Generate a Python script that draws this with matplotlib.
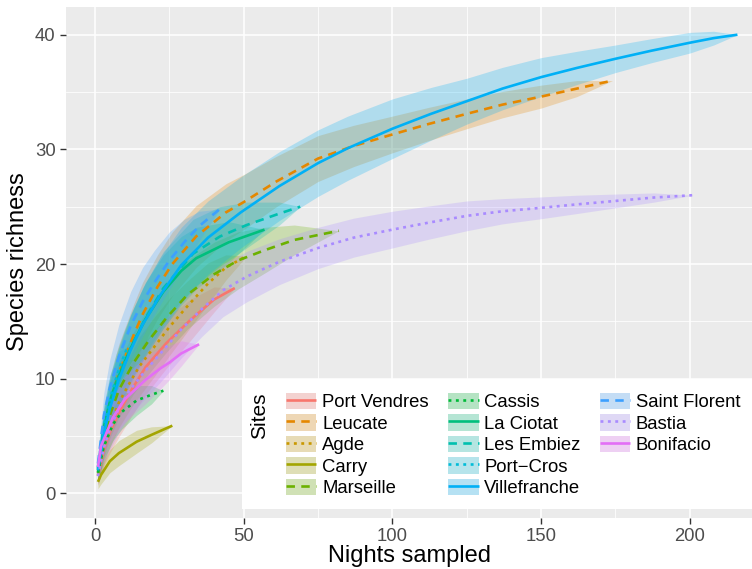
import matplotlib
matplotlib.use("Agg")
import matplotlib.pyplot as plt
from matplotlib.patches import Patch, Rectangle
from matplotlib.lines import Line2D
from matplotlib.legend_handler import HandlerTuple
from matplotlib.ticker import MultipleLocator

plt.rcParams['font.family'] = ['Liberation Sans', 'DejaVu Sans']

# sites in legend order
sites = ["Port Vendres", "Leucate", "Agde", "Carry", "Marseille",
         "Cassis", "La Ciotat", "Les Embiez", "Port\u2212Cros", "Villefranche",
         "Saint Florent", "Bastia", "Bonifacio"]

colors = ["#F8766D", "#E58700", "#C99800", "#A3A500", "#6BB100",
          "#00BA38", "#00BF7D", "#00C0AF", "#00BCD8", "#00B0F6",
          "#3CA0FF", "#A98BFF", "#E36EF6"]

linetypes = ["solid", "dashed", "dotted"] * 5

# nights sampled (x) for each site
nights = [
    [1, 3, 5, 8, 12, 17, 24, 32, 40, 47],
    [1, 3, 5, 8, 13, 16, 21, 26, 34, 44, 50, 61, 75, 87, 100, 112, 125, 137, 150, 162, 174],
    [1, 3, 5, 8, 12, 15, 20, 25, 31, 38, 44, 51],
    [1, 2, 5, 8, 14, 19, 26],
    [1, 3, 5, 8, 13, 18, 24, 31, 40, 48, 57, 67, 82],
    [1, 2, 3, 6, 9, 14, 19, 23],
    [1, 3, 5, 7, 10, 13, 17, 23, 29, 34, 45, 57],
    [1, 3, 5, 8, 12, 17, 23, 33, 42, 51, 62, 69],
    [1, 3, 5, 8, 11],
    [1, 3, 5, 8, 12, 16, 22, 29, 38, 49, 62, 75, 85, 100, 113, 125, 137, 150, 162, 175,
     187, 200, 208, 216],
    [1, 3, 5, 8, 12, 16, 20, 25, 30, 35, 42],
    [1, 3, 5, 8, 12, 16, 22, 29, 36, 43, 51, 62, 75, 87, 100, 112, 125, 137, 150, 162,
     175, 188, 201],
    [1, 2, 6, 10, 17, 22, 25, 29, 35],
]

# species richness (y)
richness = [
    [1.5, 3.8, 5.3, 7.0, 8.9, 11.0, 13.1, 15.1, 16.9, 17.9],
    [2.0, 5.5, 7.9, 10.5, 13.8, 15.6, 18.0, 20.0, 22.4, 24.5, 25.4, 27.2, 29.2, 30.3, 31.3,
     32.2, 33.1, 33.9, 34.6, 35.3, 36.0],
    [1.6, 4.1, 5.9, 7.9, 9.8, 11.1, 12.8, 14.5, 16.3, 18.3, 19.7, 20.7],
    [1.0, 1.6, 2.8, 3.5, 4.5, 5.1, 5.9],
    [1.8, 4.8, 6.8, 9.0, 11.4, 13.3, 15.3, 17.3, 19.1, 20.3, 21.2, 22.1, 22.9],
    [1.8, 3.0, 4.1, 6.0, 7.1, 8.1, 8.6, 8.95],
    [2.2, 5.8, 8.0, 9.6, 11.5, 13.2, 15.2, 17.6, 19.4, 20.5, 21.9, 23.0],
    [2.1, 5.4, 7.6, 10.1, 12.7, 15.3, 17.9, 20.9, 22.4, 23.4, 24.4, 25.0],
    [2.3, 5.9, 8.2, 10.8, 12.8],
    [2.0, 5.2, 7.4, 9.9, 12.5, 14.7, 17.3, 19.9, 22.3, 24.5, 26.8, 28.8, 30.1, 31.8, 33.1,
     34.2, 35.3, 36.3, 37.1, 37.9, 38.6, 39.3, 39.7, 40.0],
    [2.6, 6.8, 9.2, 11.9, 14.6, 16.7, 18.4, 20.3, 21.9, 23.3, 24.8],
    [1.5, 4.0, 5.6, 7.4, 9.1, 10.4, 12.2, 14.3, 16.1, 17.7, 18.9, 20.2, 21.4, 22.3, 23.0,
     23.6, 24.2, 24.6, 24.9, 25.2, 25.5, 25.8, 26.0],
    [2.3, 4.1, 6.6, 8.2, 9.9, 10.9, 11.4, 12.2, 13.0],
]

# half width of the confidence band
spread = [
    [0.8, 1.4, 1.8, 2.1, 2.3, 2.4, 2.2, 1.8, 1.1, 0],
    [1.0, 1.8, 2.2, 2.5, 2.7, 2.8, 2.8, 2.8, 2.7, 2.5, 2.4, 2.2, 2.0, 1.8, 1.6, 1.45, 1.3,
     1.15, 1.0, 0.7, 0],
    [0.8, 1.5, 1.9, 2.2, 2.4, 2.6, 2.6, 2.5, 2.2, 1.8, 1.1, 0],
    [0.6, 0.8, 1.0, 1.1, 1.0, 0.7, 0],
    [0.9, 1.6, 2.0, 2.4, 2.7, 2.9, 3.0, 3.0, 2.8, 2.5, 2.0, 1.3, 0],
    [0.7, 1.0, 1.2, 1.4, 1.5, 1.3, 0.8, 0],
    [1.0, 1.8, 2.2, 2.5, 2.8, 3.0, 3.2, 3.2, 3.0, 2.7, 1.8, 0],
    [1.0, 1.8, 2.2, 2.6, 2.9, 3.1, 3.2, 3.0, 2.6, 2.0, 1.0, 0],
    [1.0, 1.8, 2.1, 1.6, 0],
    [1.0, 1.8, 2.2, 2.6, 3.0, 3.2, 3.3, 3.3, 3.2, 3.1, 3.0, 2.9, 2.8, 2.6, 2.3, 2.0, 1.85,
     1.7, 1.45, 1.2, 1.05, 0.9, 0.6, 0],
    [1.0, 2.0, 2.5, 2.8, 3.0, 3.0, 2.8, 2.5, 2.0, 1.3, 0],
    [0.8, 1.5, 1.8, 2.1, 2.3, 2.4, 2.5, 2.5, 2.4, 2.3, 2.2, 2.0, 1.8, 1.7, 1.6, 1.45, 1.3,
     1.1, 0.95, 0.8, 0.6, 0.4, 0],
    [0.8, 1.2, 1.7, 2.0, 2.1, 1.8, 1.5, 1.1, 0],
]

W, H = 752, 569
fig = plt.figure(figsize=(W / 100, H / 100), dpi=100)
ax = fig.add_axes([66 / W, 1 - 517.5 / H, (W - 66) / W, (517.5 - 7.3) / H])
ax.set_facecolor('#EBEBEB')
for sp in ax.spines.values():
    sp.set_visible(False)

ax.set_xlim(-9.75, 220.9)
ax.set_ylim(-2.11, 42.39)
ax.xaxis.set_major_locator(MultipleLocator(50))
ax.xaxis.set_minor_locator(MultipleLocator(25))
ax.yaxis.set_major_locator(MultipleLocator(10))
ax.yaxis.set_minor_locator(MultipleLocator(5))
ax.grid(which='major', color='white', lw=1.1)
ax.grid(which='minor', color='white', lw=0.55)
ax.set_axisbelow(True)
ax.tick_params(which='major', length=4.5, width=1.0, color='#333333',
               labelcolor='#4D4D4D', labelsize=13.3, pad=3)
ax.tick_params(which='minor', length=0)

dash_styles = {"solid": None, "dashed": (3.2, 2.4), "dotted": (1.1, 1.7)}

# ribbons first, then lines (like the ggplot layers)
for i, site in enumerate(sites):
    lo = [s - w for s, w in zip(richness[i], spread[i])]
    hi = [s + w for s, w in zip(richness[i], spread[i])]
    ax.fill_between(nights[i], lo, hi, color=colors[i], alpha=0.25, lw=0)

handles = []
for i, site in enumerate(sites):
    kw = dict(color=colors[i], lw=1.9, solid_capstyle='butt')
    d = dash_styles[linetypes[i]]
    if d is not None:
        kw['dashes'] = d
    ax.plot(nights[i], richness[i], **kw)
    key_bg = Patch(facecolor='#F2F2F2', edgecolor='none')
    key_fill = Patch(facecolor=colors[i], alpha=0.25, edgecolor='none')
    key_line = Line2D([], [], **kw)
    handles.append((key_bg, key_fill, key_line))

labels = list(sites)
# two empty slots so the columns fill 5 / 5 / 3
for _ in range(2):
    handles.append(Patch(facecolor='none', edgecolor='none'))
    labels.append("")

fig.text(409 / W, 1 - 556 / H, "Nights sampled", ha='center', va='center', fontsize=17)
fig.text(18 / W, 1 - 262 / H, "Species richness", ha='center', va='center',
         rotation=90, fontsize=17)

fig.add_artist(Rectangle((242 / W, 1 - 509.3 / H), (W + 10 - 242) / W, 130 / H,
                         transform=fig.transFigure, facecolor='white',
                         edgecolor='none', zorder=2))
fig.text(260 / W, 1 - 416 / H, "Sites", rotation=90, ha='center', va='center',
         fontsize=15, zorder=3)

fig.legend(handles, labels, ncol=3, loc='upper left',
           bbox_to_anchor=(286 / W, 1 - 392.5 / H), frameon=False,
           borderpad=0, borderaxespad=0, fontsize=13.3,
           handlelength=1.65, handleheight=1.0, handletextpad=0.3,
           columnspacing=1.05, labelspacing=0.16,
           handler_map={tuple: HandlerTuple(ndivide=1, pad=0)})

fig.savefig("out.png", dpi=100)
